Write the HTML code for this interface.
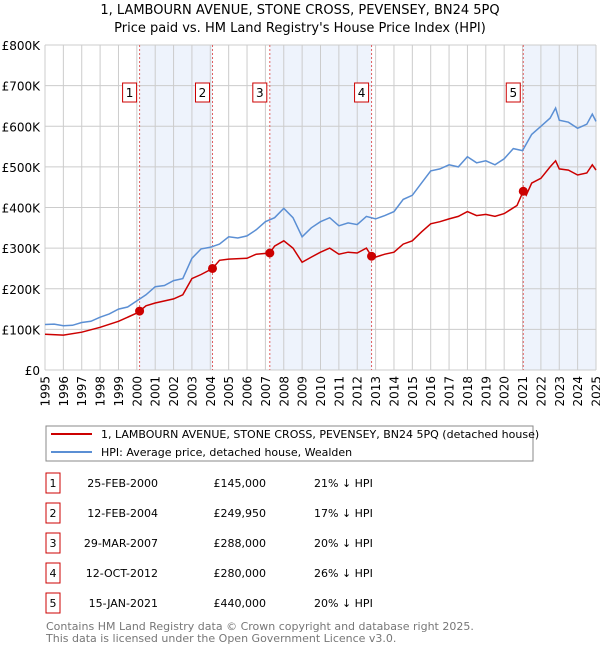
<!DOCTYPE html>
<html><head><meta charset="utf-8"><style>
body{margin:0;background:#fff;font-family:"Liberation Sans","DejaVu Sans",sans-serif;}
svg text{font-family:"DejaVu Sans","Liberation Sans",sans-serif;}
</style></head><body>
<svg width="600" height="650" viewBox="0 0 600 650">
<g id="plot"></g>
</svg>
<script>
const years=[1995,1996,1997,1998,1999,2000,2001,2002,2003,2004,2005,2006,2007,2008,2009,2010,2011,2012,2013,2014,2015,2016,2017,2018,2019,2020,2021,2022,2023,2024,2025];
const yTicks=[0,100,200,300,400,500,600,700,800];
const yTickLabels=["£0","£100K","£200K","£300K","£400K","£500K","£600K","£700K","£800K"];
const hpiX=[1995,1995.5,1996,1996.5,1997,1997.5,1998,1998.5,1999,1999.5,2000,2000.5,2001,2001.5,2002,2002.5,2003,2003.5,2004,2004.5,2005,2005.5,2006,2006.5,2007,2007.5,2008,2008.5,2009,2009.5,2010,2010.5,2011,2011.5,2012,2012.5,2013,2013.5,2014,2014.5,2015,2015.5,2016,2016.5,2017,2017.5,2018,2018.5,2019,2019.5,2020,2020.5,2021,2021.5,2022,2022.5,2022.8,2023,2023.5,2024,2024.5,2024.8,2025];
const hpiY=[112,113,109,110,117,120,130,138,150,155,170,185,205,208,220,225,275,298,302,310,328,325,330,345,365,375,398,375,328,350,365,375,355,362,358,378,372,380,390,420,430,460,490,495,505,500,525,510,515,505,520,545,540,580,600,620,645,615,610,595,605,630,612];
const priceX=[1995,1996,1997,1998,1999,2000,2000.15,2000.5,2001,2002,2002.5,2003,2003.5,2004.12,2004.5,2005,2006,2006.5,2007.24,2007.5,2008,2008.5,2009,2009.5,2010,2010.5,2011,2011.5,2012,2012.5,2012.78,2013,2013.5,2014,2014.5,2015,2015.5,2016,2016.5,2017,2017.5,2018,2018.5,2019,2019.5,2020,2020.7,2021.04,2021.2,2021.5,2022,2022.5,2022.8,2023,2023.5,2024,2024.5,2024.8,2025];
const priceY=[88,86,93,105,120,140,145,158,165,175,185,225,235,249.95,270,273,275,285,288,305,318,300,265,278,290,300,285,290,288,300,280,278,285,290,310,318,340,360,365,372,378,390,380,383,378,385,405,440,430,460,472,500,515,495,492,480,485,505,492];
const saleX=[2000.15,2004.12,2007.24,2012.78,2021.04];
const saleY=[145,249.95,288,280,440];
const saleLabels=["1","2","3","4","5"];
const dates=["25-FEB-2000","12-FEB-2004","29-MAR-2007","12-OCT-2012","15-JAN-2021"];
const prices=["£145,000","£249,950","£288,000","£280,000","£440,000"];
const diffs=["21% ↓ HPI","17% ↓ HPI","20% ↓ HPI","26% ↓ HPI","20% ↓ HPI"];

const L=45,R=596,T=45,B=370;
const sx=y=>L+(y-1995)/30*(R-L);
const sy=v=>B-v/800*(B-T);
const NS="http://www.w3.org/2000/svg";
const root=document.querySelector('svg');
function mk(tag,attrs,parent,txt){const e=document.createElementNS(NS,tag);for(const k in attrs)e.setAttribute(k,attrs[k]);if(txt!==undefined)e.textContent=txt;(parent||root).appendChild(e);return e;}

let t=mk('text',{x:300,y:14,'text-anchor':'middle','font-size':13,fill:'#000'},root,"1, LAMBOURN AVENUE, STONE CROSS, PEVENSEY, BN24 5PQ");


t=mk('text',{x:300,y:32,'text-anchor':'middle','font-size':13,fill:'#000'},root,"Price paid vs. HM Land Registry's House Price Index (HPI)");



const shades=[[saleX[0],saleX[1]],[saleX[2],saleX[3]],[saleX[4],2025]];
shades.forEach(s=>{const r=mk('rect',{x:sx(s[0]),y:T,width:sx(s[1])-sx(s[0]),height:B-T,fill:'#eef3fc'});

});

years.forEach(y=>{const l=mk('line',{x1:sx(y),x2:sx(y),y1:T,y2:B,stroke:'#ccc','stroke-width':1});


const tx=mk('text',{x:0,y:0,'text-anchor':'end','font-size':12,fill:'#000',transform:'translate('+(sx(y)+4.5)+',376) rotate(-90)'},root,String(y));

});
yTicks.forEach((v,i)=>{const l=mk('line',{x1:L,x2:R,y1:sy(v),y2:sy(v),stroke:'#ccc','stroke-width':1});


const tx=mk('text',{x:40,y:sy(v)+5,'text-anchor':'end','font-size':12,fill:'#000'},root,yTickLabels[i]);

});

saleX.forEach((x,i)=>{const l=mk('line',{x1:sx(x),x2:sx(x),y1:T,y2:B,stroke:'#e06060','stroke-width':1,'stroke-dasharray':'2,2'});


const g=mk('g',{});


mk('rect',{x:sx(x)-10-7,y:83,width:14,height:19,fill:'#fff',stroke:'#c00','stroke-width':1},g);
mk('text',{x:sx(x)-10,y:97,'text-anchor':'middle','font-size':12,fill:'#000'},g,saleLabels[i]);});

const path=(xs,ys)=>xs.map((x,i)=>(i?'L':'M')+sx(x).toFixed(1)+','+sy(ys[i]).toFixed(1)).join('');
let p=mk('path',{d:path(hpiX,hpiY),fill:'none',stroke:'#5b8fd4','stroke-width':1.5});


p=mk('path',{d:path(priceX,priceY),fill:'none',stroke:'#cc0000','stroke-width':1.5});


saleX.forEach((x,i)=>{const c=mk('circle',{cx:sx(x),cy:sy(saleY[i]),r:4.5,fill:'#cc0000'});

});

const lg=mk('g',{});


mk('rect',{x:46,y:426,width:487,height:35,fill:'#fff',stroke:'#888','stroke-width':1},lg);
mk('line',{x1:51,x2:92,y1:434,y2:434,stroke:'#cc0000','stroke-width':2},lg);
mk('text',{x:101,y:438,'font-size':11,fill:'#000'},lg,"1, LAMBOURN AVENUE, STONE CROSS, PEVENSEY, BN24 5PQ (detached house)");
mk('line',{x1:51,x2:92,y1:452,y2:452,stroke:'#5b8fd4','stroke-width':2},lg);
mk('text',{x:101,y:456,'font-size':11,fill:'#000'},lg,"HPI: Average price, detached house, Wealden");

saleLabels.forEach((s,i)=>{const y=483+i*30;const g=mk('g',{});


mk('rect',{x:46,y:y-10,width:14,height:20,fill:'#fff',stroke:'#c00','stroke-width':1},g);
mk('text',{x:53,y:y+4,'text-anchor':'middle','font-size':11,fill:'#000'},g,s);
mk('text',{x:158,y:y+4,'text-anchor':'end','font-size':11,fill:'#000'},g,dates[i]);
mk('text',{x:266,y:y+4,'text-anchor':'end','font-size':11,fill:'#000'},g,prices[i]);
mk('text',{x:314,y:y+4,'font-size':11,fill:'#000'},g,diffs[i]);});

t=mk('text',{x:46,y:630,'font-size':11,fill:'#777'},root,"Contains HM Land Registry data © Crown copyright and database right 2025.");


t=mk('text',{x:46,y:642,'font-size':11,fill:'#777'},root,"This data is licensed under the Open Government Licence v3.0.");


</script>
</body></html>
